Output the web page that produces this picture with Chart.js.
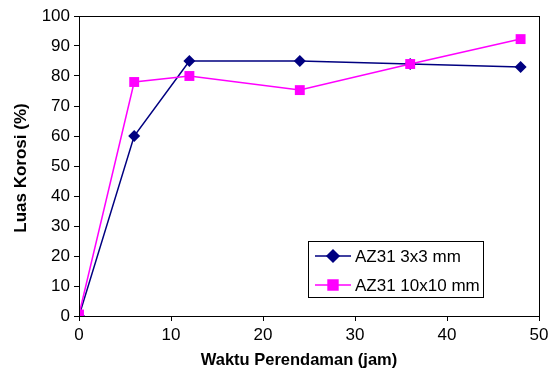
<!DOCTYPE html>
<html>
<head>
<meta charset="utf-8">
<script src="https://cdn.jsdelivr.net/npm/chart.js@4/dist/chart.umd.min.js"></script>
<style>
  html, body { margin: 0; padding: 0; background: #fff; }
  #wrap { width: 559px; height: 370px; }
</style>
</head>
<body>
<div id="wrap"><canvas id="grafik" width="559" height="370"></canvas></div>
<script>
// waktu perendaman (jam)
const waktu = [0, 6, 12, 24, 36, 48];
// luas korosi (%)
const az31_3x3 = [0, 60, 85, 85, 84, 83];
const az31_10x10 = [0.5, 78, 80, 75.3, 84, 92.3];
const labelSeri = ["AZ31 3x3 mm", "AZ31 10x10 mm"];
const xTicks = [0, 10, 20, 30, 40, 50];
const yTicks = [0, 10, 20, 30, 40, 50, 60, 70, 80, 90, 100];
const judulX = "Waktu Perendaman (jam)";
const judulY = "Luas Korosi (%)";

const fontFam = "'Liberation Sans', Arial, sans-serif";

function toPoints(ys) {
    return waktu.map((x, i) => ({ x: x, y: ys[i] }));
}

// kotak area plot, judul sumbu dan legend di dalam plot
const kotakPlot = {
    id: 'kotakPlot',
    afterDraw(chart) {
        const ctx = chart.ctx;
        const a = chart.chartArea;
        ctx.save();
        ctx.strokeStyle = '#000';
        ctx.lineWidth = 1;
        ctx.strokeRect(a.left + 0.5, a.top + 0.5, a.right - a.left, a.bottom - a.top);

        // judul sumbu
        ctx.fillStyle = '#000';
        ctx.font = 'bold 16.5px ' + fontFam;
        ctx.textAlign = 'center';
        ctx.textBaseline = 'alphabetic';
        ctx.fillText(judulX, 299, 365);
        ctx.save();
        ctx.translate(26, 168);
        ctx.rotate(-Math.PI / 2);
        ctx.font = 'bold 17px ' + fontFam;
        ctx.fillText(judulY, 0, 0);
        ctx.restore();

        // legend
        const lx = 308, ly = 241, lw = 175, lh = 56;
        ctx.textAlign = 'left';
        ctx.fillStyle = '#fff';
        ctx.fillRect(lx, ly, lw, lh);
        ctx.strokeRect(lx + 0.5, ly + 0.5, lw, lh);
        ctx.font = '17px ' + fontFam;
        ctx.textBaseline = 'middle';
        chart.data.datasets.forEach((ds, i) => {
            const y = ly + 15 + i * 29;
            ctx.strokeStyle = ds.borderColor;
            ctx.lineWidth = 1.5;
            ctx.beginPath();
            ctx.moveTo(lx + 7, y);
            ctx.lineTo(lx + 43, y);
            ctx.stroke();
            Chart.helpers.drawPoint(ctx, {
                pointStyle: ds.pointStyle,
                radius: ds.pointRadius,
                rotation: 0,
                borderWidth: 1
            }, lx + 25, y);
            ctx.fillStyle = ds.backgroundColor;
            ctx.fill();
            ctx.fillStyle = '#000';
            ctx.fillText(ds.label, lx + 47, y + 1);
        });
        ctx.restore();
    }
};

new Chart(document.getElementById("grafik"), {
    type: 'line',
    data: {
        datasets: [
            {
                label: labelSeri[0],
                data: toPoints(az31_3x3),
                borderColor: "#000080",
                backgroundColor: "#000080",
                borderWidth: 1.5,
                pointStyle: 'rectRot',
                pointRadius: 6,
                pointBorderWidth: 0,
                tension: 0,
                order: 1
            },
            {
                label: labelSeri[1],
                data: toPoints(az31_10x10),
                borderColor: "#FF00FF",
                backgroundColor: "#FF00FF",
                borderWidth: 1.5,
                pointStyle: 'rect',
                pointRadius: 7,
                pointBorderWidth: 0,
                tension: 0,
                order: 0
            }
        ]
    },
    options: {
        responsive: false,
        animation: false,
        devicePixelRatio: 1,
        layout: {
            padding: { left: 0, right: 20, top: 16, bottom: 0 }
        },
        plugins: {
            legend: { display: false },
            tooltip: { enabled: false }
        },
        scales: {
            x: {
                type: 'linear',
                min: 0,
                max: 50,
                afterBuildTicks: (s) => { s.ticks = xTicks.map(v => ({ value: v })); },
                afterFit: (s) => { s.height = 54; },
                grid: {
                    drawOnChartArea: false,
                    drawTicks: true,
                    tickLength: 5,
                    color: '#000'
                },
                border: { color: '#000', width: 1 },
                ticks: {
                    color: '#000',
                    font: { family: fontFam, size: 17 },
                    padding: 4,
                    maxRotation: 0
                },
                title: { display: false }
            },
            y: {
                min: 0,
                max: 100,
                afterBuildTicks: (s) => { s.ticks = yTicks.map(v => ({ value: v })); },
                afterFit: (s) => { s.width = 79; },
                grid: {
                    drawOnChartArea: false,
                    drawTicks: true,
                    tickLength: 5,
                    color: '#000'
                },
                border: { color: '#000', width: 1 },
                ticks: {
                    color: '#000',
                    font: { family: fontFam, size: 17 },
                    padding: 4
                },
                title: { display: false }
            }
        }
    },
    plugins: [kotakPlot]
});
</script>
</body>
</html>
